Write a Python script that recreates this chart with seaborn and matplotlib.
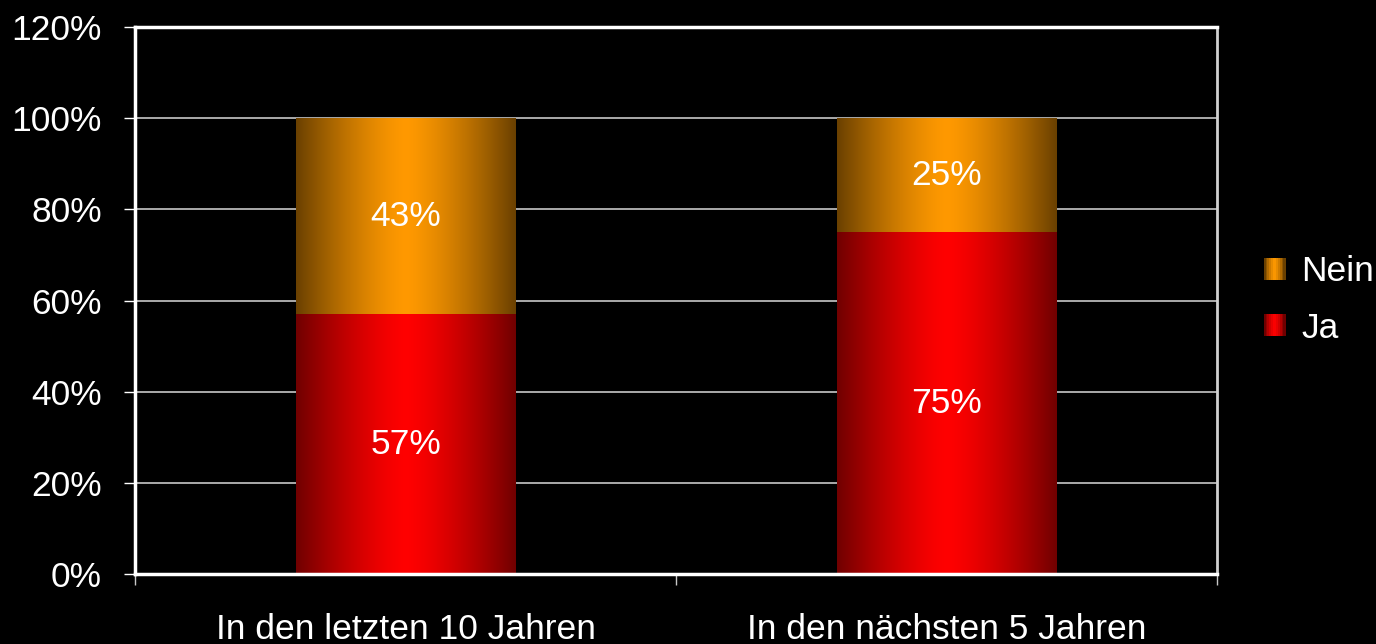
import numpy as np
import pandas as pd
import matplotlib
matplotlib.use("Agg")
import matplotlib.pyplot as plt
import seaborn as sns
from matplotlib.patches import Rectangle
from matplotlib.legend_handler import HandlerBase
from matplotlib.colors import to_rgb

categories = ["In den letzten 10 Jahren", "In den nächsten 5 Jahren"]
ja = [57, 75]
nein = [43, 25]
series = ["Nein", "Ja"]
yticks = [0, 20, 40, 60, 80, 100, 120]

sns.set_theme(style="white")
plt.rcParams["font.family"] = ["Liberation Sans", "DejaVu Sans"]

FS = 25.5

fig = plt.figure(figsize=(13.76, 6.44), dpi=100, facecolor="black")
ax = fig.add_axes([135 / 1376, 1 - 574 / 644, (1217 - 135) / 1376, (574 - 27) / 644])
ax.set_facecolor("black")

totals = [a + b for a, b in zip(ja, nein)]
df_tot = pd.DataFrame({"cat": categories, "val": totals})
df_ja = pd.DataFrame({"cat": categories, "val": ja})

width = 0.405
sns.barplot(data=df_tot, x="cat", y="val", color="#FF9900", width=width, ax=ax,
            saturation=1, linewidth=0)
n_tot = len(ax.patches)
sns.barplot(data=df_ja, x="cat", y="val", color="#FF0000", width=width, ax=ax,
            saturation=1, linewidth=0)

edge_c = {"Nein": "#6A4000", "Ja": "#700000"}
center_c = {"Nein": "#FF9900", "Ja": "#FF0000"}


def gradient_row(edge, center, n=256):
    t = np.abs(np.linspace(-1, 1, n))
    t = np.clip(t, 0, 1) ** 1.4
    e = np.array(to_rgb(edge))
    c = np.array(to_rgb(center))
    return c[None, :] * (1 - t[:, None]) + e[None, :] * t[:, None]


for i, p in enumerate(ax.patches):
    name = "Nein" if i < n_tot else "Ja"
    x0, y0 = p.get_x(), p.get_y()
    w, h = p.get_width(), p.get_height()
    img = gradient_row(edge_c[name], center_c[name])[None, :, :]
    im = ax.imshow(img, extent=[x0, x0 + w, y0, y0 + h], aspect="auto",
                   zorder=p.get_zorder() + 0.1 + (0.5 if name == "Ja" else 0),
                   interpolation="bilinear")
    im.set_clip_path(p)

# value labels
for i in range(len(categories)):
    ax.text(i, ja[i] / 2, f"{ja[i]}%", ha="center", va="center", color="white",
            fontsize=FS, zorder=10)
    ax.text(i, ja[i] + nein[i] / 2, f"{nein[i]}%", ha="center", va="center",
            color="white", fontsize=FS, zorder=10)

ax.set_xlim(-0.5, len(categories) - 0.5)
ax.set_ylim(0, 120)
ax.set_yticks(yticks)
ax.set_yticklabels([f"{v}%" for v in yticks])
ax.set_xlabel("")
ax.set_ylabel("")
ax.yaxis.grid(True, color="#C8C8C8", linewidth=1.2)
ax.set_axisbelow(True)

for s in ax.spines.values():
    s.set_visible(True)
    s.set_color("white")
    s.set_linewidth(2.5)
ax.spines["right"].set_color("#D0D0D0")
ax.spines["right"].set_linewidth(2)
ax.spines["bottom"].set_zorder(20)

ax.tick_params(axis="y", colors="white", labelcolor="white", labelsize=FS,
               length=8, width=1, direction="out", pad=16, left=True)
ax.set_xticks([-0.5, 0.5, 1.5], minor=True)
ax.tick_params(axis="x", which="major", length=0, labelsize=FS,
               labelcolor="white", pad=28)
ax.tick_params(axis="x", which="minor", length=8, width=1, color="#C8C8C8",
               direction="out", bottom=True)


class GradientHandler(HandlerBase):
    def __init__(self, edge, center):
        super().__init__()
        self.edge = edge
        self.center = center

    def create_artists(self, legend, orig_handle, xdescent, ydescent, width,
                       height, fontsize, trans):
        rows = gradient_row(self.edge, self.center, n=12)
        n = len(rows)
        arts = []
        for k, col in enumerate(rows):
            r = Rectangle((-xdescent + k * width / n, -ydescent), width / n + 0.3,
                          height, facecolor=col, edgecolor="none",
                          transform=trans)
            arts.append(r)
        return arts


handles = [Rectangle((0, 0), 1, 1, facecolor=center_c["Nein"]),
           Rectangle((0, 0), 1, 1, facecolor=center_c["Ja"])]
leg = fig.legend(handles, series, loc="center left",
                 bbox_to_anchor=(1232 / 1376, 1 - 300 / 644), frameon=False,
                 fontsize=FS, labelcolor="white", handlelength=0.6,
                 handleheight=0.6, handletextpad=0.45, labelspacing=0.65,
                 handler_map={handles[0]: GradientHandler(edge_c["Nein"], center_c["Nein"]),
                              handles[1]: GradientHandler(edge_c["Ja"], center_c["Ja"])})

fig.savefig("out.png", dpi=100, facecolor="black")
